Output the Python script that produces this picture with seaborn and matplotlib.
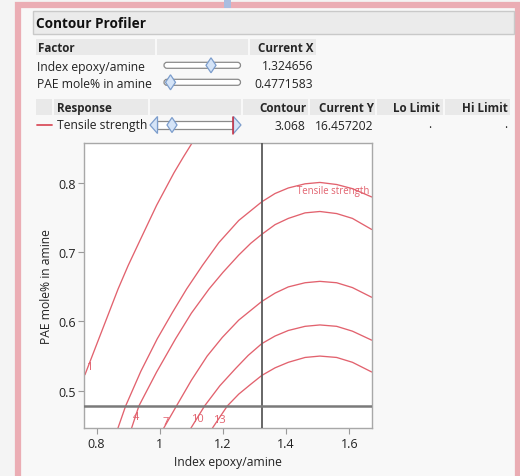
import matplotlib
matplotlib.use("Agg")
import matplotlib.pyplot as plt
import matplotlib.patches as mpatches
import numpy as np
import pandas as pd
import seaborn as sns

# ---------------- data ----------------
factor_names = ["Index epoxy/amine", "PAE mole% in amine"]
factor_values = ["1.324656", "0.4771583"]
response_name = "Tensile strength"
contour_value = "3.068"
current_y = "16.457202"
current_x = 1.324656
current_pae = 0.4771583

x_ticks = [0.8, 1.0, 1.2, 1.4, 1.6]
x_tick_labels = ["0.8", "1", "1.2", "1.4", "1.6"]
y_ticks = [0.5, 0.6, 0.7, 0.8]
y_tick_labels = ["0.5", "0.6", "0.7", "0.8"]

# contour curves
c1_x = [0.763, 0.785, 0.807, 0.835, 0.868, 0.900, 0.934, 0.962, 0.990, 1.045, 1.075, 1.105]
c1_y = [0.523, 0.549, 0.575, 0.608, 0.647, 0.681, 0.714, 0.741, 0.768, 0.815, 0.838, 0.860]
cA_x = [0.860, 0.892, 0.940, 0.992, 1.040, 1.085, 1.135, 1.187, 1.250, 1.323, 1.365,
        1.407, 1.460, 1.507, 1.560, 1.610, 1.671]
cA_y = [0.436, 0.478, 0.528, 0.575, 0.613, 0.647, 0.681, 0.714, 0.746, 0.773, 0.785,
        0.793, 0.799, 0.801, 0.798, 0.792, 0.780]
c4_x = [0.905, 0.934, 0.990, 1.050, 1.100, 1.156, 1.200, 1.250, 1.288, 1.323, 1.365,
        1.407, 1.460, 1.507, 1.560, 1.610, 1.671]
c4_y = [0.438, 0.478, 0.527, 0.575, 0.612, 0.647, 0.671, 0.696, 0.713, 0.726, 0.740,
        0.749, 0.757, 0.759, 0.756, 0.749, 0.733]
c7_x = [1.005, 1.053, 1.100, 1.150, 1.198, 1.250, 1.323, 1.365, 1.407, 1.460, 1.507,
        1.560, 1.610, 1.671]
c7_y = [0.440, 0.478, 0.515, 0.550, 0.577, 0.602, 0.629, 0.641, 0.650, 0.656, 0.658,
        0.656, 0.649, 0.635]
c10_x = [1.088, 1.142, 1.190, 1.240, 1.280, 1.323, 1.365, 1.407, 1.460, 1.507, 1.560,
         1.610, 1.671]
c10_y = [0.438, 0.478, 0.507, 0.532, 0.551, 0.568, 0.579, 0.587, 0.593, 0.595, 0.593,
         0.586, 0.573]
c13_x = [1.158, 1.214, 1.250, 1.290, 1.323, 1.365, 1.407, 1.460, 1.507, 1.560, 1.610, 1.671]
c13_y = [0.440, 0.478, 0.495, 0.510, 0.522, 0.533, 0.541, 0.548, 0.550, 0.548, 0.541, 0.527]

curves = {"1": (c1_x, c1_y), "3.068": (cA_x, cA_y), "4": (c4_x, c4_y),
          "7": (c7_x, c7_y), "10": (c10_x, c10_y), "13": (c13_x, c13_y)}
rows = []
for lvl, (xs, ys) in curves.items():
    for i, (a, b) in enumerate(zip(xs, ys)):
        rows.append({"level": lvl, "idx": i, "x": a, "y": b})
df = pd.DataFrame(rows)

# contour label positions
label_text = ["1", "4", "7", "10", "13"]
label_x = [0.776, 0.924, 1.019, 1.119, 1.188]
label_y = [0.535, 0.463, 0.455, 0.460, 0.458]

# ---------------- figure ----------------
sns.set_theme(style="white")
plt.rcParams["font.family"] = ["Open Sans", "DejaVu Sans"]

W, H = 520, 477
fig = plt.figure(figsize=(W / 100, H / 100), dpi=100)
fig.patch.set_facecolor("#f4f4f4")

bg = fig.add_axes([0, 0, 1, 1])
bg.set_xlim(0, W)
bg.set_ylim(H, 0)
bg.axis("off")

# panel and pink frame
bg.add_patch(mpatches.Rectangle((18, 6), 500, 480, facecolor="#f8f8f8",
                                edgecolor="#ebadb4", lw=4.5, zorder=1))
bg.add_patch(mpatches.Rectangle((224, 0), 7, 9, facecolor="#a9bde0",
                                edgecolor="none", zorder=2))

# title bar
bg.add_patch(mpatches.Rectangle((33, 12), 481, 23, facecolor="#ebebeb",
                                edgecolor="#c9c9c9", lw=1, zorder=2))
bg.text(36, 24, "Contour Profiler", fontsize=9.8, fontweight="bold",
        va="center", ha="left", color="#111111", zorder=3)

def cell(x0, x1, y0, y1):
    bg.add_patch(mpatches.Rectangle((x0, y0), x1 - x0, y1 - y0,
                                    facecolor="#e9e9e9", edgecolor="none", zorder=2))

# factor header
cell(36, 155, 40, 56)
cell(157, 248, 40, 56)
cell(250, 316, 40, 56)
bg.text(38, 48.5, "Factor", fontsize=8.4, fontweight="bold", va="center", zorder=3)
bg.text(313, 48.5, "Current X", fontsize=8.4, fontweight="bold", va="center",
        ha="right", zorder=3)

def slider(x0, x1, yc, thumb):
    bg.add_patch(mpatches.FancyBboxPatch((x0, yc - 3), x1 - x0, 6,
                 boxstyle="round,pad=0,rounding_size=3", facecolor="white",
                 edgecolor="#8a8a8a", lw=0.9, zorder=3))
    bg.add_patch(mpatches.Polygon([(thumb, yc - 7.5), (thumb + 5, yc),
                                   (thumb, yc + 7.5), (thumb - 5, yc)],
                                  closed=True, facecolor="#d5e4f7",
                                  edgecolor="#7c9dcc", lw=0.9, zorder=4))

row_y = [67, 84]
thumbs = [211, 170.5]
for name, val, yc, th in zip(factor_names, factor_values, row_y, thumbs):
    bg.text(37, yc, name, fontsize=8.7, va="center", color="#222222", zorder=3)
    bg.text(313, yc, val, fontsize=8.7, va="center", ha="right", color="#222222", zorder=3)
    slider(164, 240.5, yc - 0.7, th)

# response header
cell(36, 52, 100, 116)
cell(54, 148, 100, 116)
cell(150, 241, 100, 116)
cell(243, 308, 100, 116)
cell(310, 375, 100, 116)
cell(377, 443, 100, 116)
cell(445, 510, 100, 116)
bg.text(57, 108.5, "Response", fontsize=8.4, fontweight="bold", va="center", zorder=3)
for xr, t in zip([306, 374, 440, 508], ["Contour", "Current Y", "Lo Limit", "Hi Limit"]):
    bg.text(xr, 108.5, t, fontsize=8.4, fontweight="bold", va="center", ha="right", zorder=3)

ry = 126
bg.plot([37, 52], [ry, ry], color="#d9505e", lw=1.3, zorder=3)
bg.text(57, ry, response_name, fontsize=8.7, va="center", color="#222222", zorder=3)
# response slider
bg.add_patch(mpatches.Rectangle((157, ry - 4), 76, 8, facecolor="white",
                                edgecolor="#8a8a8a", lw=0.9, zorder=3))
bg.add_patch(mpatches.Polygon([(150, ry), (157.5, ry - 8.5), (157.5, ry + 8.5)],
                              closed=True, facecolor="#d5e4f7", edgecolor="#7c9dcc",
                              lw=0.9, zorder=4))
bg.add_patch(mpatches.Polygon([(241, ry), (233.5, ry - 8.5), (233.5, ry + 8.5)],
                              closed=True, facecolor="#d5e4f7", edgecolor="#7c9dcc",
                              lw=0.9, zorder=4))
bg.plot([233, 233], [ry - 8.5, ry + 8.5], color="#c8283a", lw=1.1, zorder=5)
bg.add_patch(mpatches.Polygon([(172, ry - 7.5), (177, ry), (172, ry + 7.5), (167, ry)],
                              closed=True, facecolor="#d5e4f7", edgecolor="#7c9dcc",
                              lw=0.9, zorder=5))
bg.text(305, ry, contour_value, fontsize=8.7, va="center", ha="right", color="#222222", zorder=3)
bg.text(373, ry, current_y, fontsize=8.7, va="center", ha="right", color="#222222", zorder=3)
bg.text(431, ry - 1, ".", fontsize=8.7, va="center", ha="right", color="#222222", zorder=3)
bg.text(507, ry - 1, ".", fontsize=8.7, va="center", ha="right", color="#222222", zorder=3)

# ---------------- contour plot ----------------
left, right, top, bottom = 84.3, 371.7, 144.0, 429.3
ax = fig.add_axes([left / W, 1 - bottom / H, (right - left) / W, (bottom - top) / H])
ax.set_facecolor("white")
line_color = "#e2626e"
sns.lineplot(data=df, x="x", y="y", units="level", estimator=None, sort=False,
             color=line_color, lw=0.95, ax=ax, legend=False)
ax.axvline(current_x, color="#5a5a5a", lw=1.3, zorder=5)
ax.axhline(current_pae, color="#7a7a7a", lw=1.8, zorder=5)

for t, lx, ly in zip(label_text, label_x, label_y):
    ax.text(lx, ly, t, fontsize=8, color=line_color, ha="center", va="center")
ax.text(1.664, 0.790, "Tensile strength", fontsize=6.9, color=line_color,
        ha="right", va="center")

ax.set_xlim(0.761, 1.671)
ax.set_ylim(0.4456, 0.858)
ax.set_xticks(x_ticks)
ax.set_xticklabels(x_tick_labels)
ax.set_yticks(y_ticks)
ax.set_yticklabels(y_tick_labels)
ax.tick_params(axis="both", which="major", direction="out", length=4, width=0.8,
               color="#9a9a9a", labelsize=9, labelcolor="#222222", pad=2,
               bottom=True, left=True)
for s in ax.spines.values():
    s.set_color("#a8a8a8")
    s.set_linewidth(1.0)
ax.set_xlabel("Index epoxy/amine", fontsize=8.7, color="#222222", labelpad=4)
ax.set_ylabel("PAE mole% in amine", fontsize=8.7, color="#222222", labelpad=4)

fig.savefig("out.png", dpi=100, facecolor=fig.get_facecolor())
